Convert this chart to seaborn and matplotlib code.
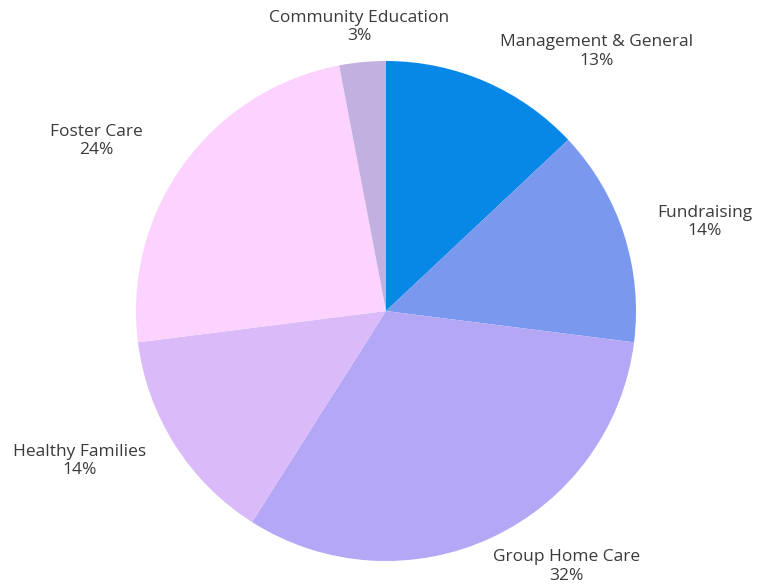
import numpy as np
import seaborn as sns
import matplotlib.pyplot as plt

# dados do gráfico (ordem horária a partir do topo)
categories = ["Management & General", "Fundraising", "Group Home Care",
              "Healthy Families", "Foster Care", "Community Education"]
shares = [13, 14, 32, 14, 24, 3]
colors = ["#0788e6", "#7b98ef", "#b3a7f6", "#dbbaf9", "#fcd3ff", "#c2b0e0"]

# ajustes de posição dos rótulos (graus, pixels)
label_shift = [-15.6, -2.4, 10.1, -6.3, 5.6, 0.0]
label_dist = [334, 331, 313, 341, 336, 285]

sns.set_theme(style="white")
plt.rcParams['font.family'] = ['Open Sans', 'DejaVu Sans']

fig = plt.figure(figsize=(7.68, 5.84), dpi=100)
ax = fig.add_axes([0, 0, 1, 1])

cx, cy, r = 386, 584 - 311, 250
wedges, _ = ax.pie(shares, colors=colors, startangle=90, counterclock=False,
                   center=(cx, cy), radius=r, frame=True,
                   wedgeprops=dict(linewidth=0))

total = sum(shares)
for w, name, v, sh, d in zip(wedges, categories, shares, label_shift, label_dist):
    ang = np.deg2rad((w.theta1 + w.theta2) / 2 + sh)
    x = cx + d * np.cos(ang)
    y = cy + d * np.sin(ang)
    ax.text(x, y, f"{name}\n{round(v / total * 100)}%", ha="center", va="center",
            fontsize=12.5, color="#3a3a3a", linespacing=1.2)

ax.set_xlim(0, 768)
ax.set_ylim(0, 584)
ax.set_aspect("equal")
ax.axis("off")

fig.savefig("out.png", dpi=100)
